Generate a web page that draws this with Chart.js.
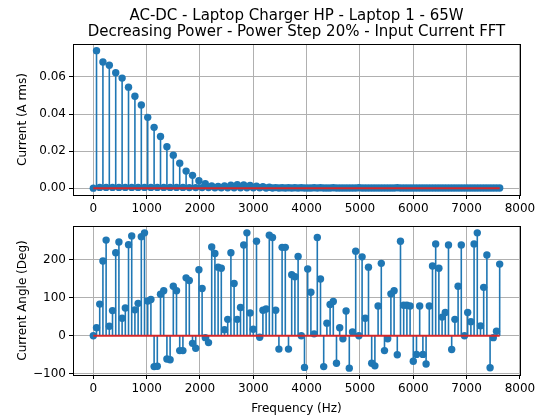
<!DOCTYPE html>
<html>
<head>
<meta charset="utf-8">
<script src="https://cdn.jsdelivr.net/npm/chart.js@4.4.1/dist/chart.umd.min.js"></script>
<style>
  body { margin: 0; background: #fff; }
  #wrap { position: relative; width: 539px; height: 417px; }
  #wrap canvas { position: absolute; left: 0; }
</style>
</head>
<body>
<div id="wrap">
  <canvas id="fftChart" width="539" height="215" style="top:0px"></canvas>
  <canvas id="angleChart" width="539" height="202" style="top:215px"></canvas>
</div>
<script>
// FFT bins (Hz)
const frequencies = [
  0, 60, 120, 180, 240, 300, 360, 420, 480, 540,
  600, 660, 720, 780, 840, 900, 960, 1020, 1080, 1140,
  1200, 1260, 1320, 1380, 1440, 1500, 1560, 1620, 1680, 1740,
  1800, 1860, 1920, 1980, 2040, 2100, 2160, 2220, 2280, 2340,
  2400, 2460, 2520, 2580, 2640, 2700, 2760, 2820, 2880, 2940,
  3000, 3060, 3120, 3180, 3240, 3300, 3360, 3420, 3480, 3540,
  3600, 3660, 3720, 3780, 3840, 3900, 3960, 4020, 4080, 4140,
  4200, 4260, 4320, 4380, 4440, 4500, 4560, 4620, 4680, 4740,
  4800, 4860, 4920, 4980, 5040, 5100, 5160, 5220, 5280, 5340,
  5400, 5460, 5520, 5580, 5640, 5700, 5760, 5820, 5880, 5940,
  6000, 6060, 6120, 6180, 6240, 6300, 6360, 6420, 6480, 6540,
  6600, 6660, 6720, 6780, 6840, 6900, 6960, 7020, 7080, 7140,
  7200, 7260, 7320, 7380, 7440, 7500, 7560, 7620
];

// input current magnitude (A rms)
const currentRms = [
  0, 0.0742, 0.0004, 0.0681, 0.0004, 0.0663, 0.0004, 0.0623, 0.0004, 0.0594,
  0.0004, 0.0545, 0.0004, 0.0496, 0.0004, 0.0449, 0.0004, 0.0382, 0.0004, 0.0328,
  0.0004, 0.0279, 0.0004, 0.0224, 0.0004, 0.0178, 0.0004, 0.0134, 0.0004, 0.0092,
  0.0003, 0.0069, 0.0003, 0.0040, 0.0003, 0.0024, 0.0003, 0.0012, 0.0002, 0.0009,
  0.0002, 0.0012, 0.0002, 0.0016, 0.0002, 0.0018, 0.0002, 0.0017, 0.0002, 0.0014,
  0.0002, 0.0011, 0.0002, 0.0008, 0.0001, 0.0005, 0.0001, 0.0003, 0.0001, 0.0002,
  0.0001, 0.0002, 0.0001, 0.0002, 0.0001, 0.0002, 0.0001, 0.0001, 0.0001, 0.0002,
  0.0001, 0.0002, 0.0001, 0.0001, 0.0001, 0.0002, 0.0001, 0.0001, 0.0001, 0.0001,
  0.0001, 0.0001, 0.0001, 0.0002, 0.0001, 0.0001, 0.0001, 0.0001, 0.0001, 0.0001,
  0.0001, 0.0001, 0.0001, 0.0001, 0.0001, 0.0002, 0.0001, 0.0001, 0.0001, 0.0001,
  0.0001, 0.0001, 0.0001, 0.0001, 0.0001, 0.0001, 0.0001, 0.0001, 0.0001, 0.0001,
  0.0001, 0.0001, 0.0001, 0.0001, 0.0001, 0.0001, 0.0001, 0.0001, 0.0001, 0.0001,
  0.0001, 0.0001, 0.0001, 0.0001, 0.0001, 0.0001, 0.0001, 0.0001
];

// input current phase (deg)
const currentAngle = [
  0, 21, 83, 196, 251, 25, 66, 218, 246, 46,
  73, 239, 262, 68, 85, 260, 270, 91, 95, -81,
  -80, 109, 118, -61, -63, 130, 118, -39, -39, 152,
  145, -20, -33, 173, 124, -5, -18, 233, 216, 180,
  177, 16, 43, 218, 137, 43, 74, 238, 270, 60,
  17, 248, -4, 67, 70, 264, 258, 67, -35, 232,
  232, -35, 160, 155, 208, 0, -83, 175, 114, 5,
  258, 149, -81, 33, 82, 90, -72, 21, -8, 65,
  -85, 10, 222, 0, 207, 46, 180, -72, -79, 78,
  190, -39, -8, 110, 118, -50, 248, 80, 80, 78,
  -67, -49, 78, -49, -74, 78, 183, 241, 177, 49,
  61, 238, -36, 43, 130, 238, 0, 61, 37, 241,
  270, 26, 127, 212, -84, -5, 12, 188
];

const freqTicks = [0, 1000, 2000, 3000, 4000, 5000, 6000, 7000, 8000];
const currentTicks = [0, 0.02, 0.04, 0.06];
const angleTicks = [-100, 0, 100, 200];

const BLUE = '#1f77b4';
const RED = '#d62728';
const FONT = 'DejaVu Sans';

// black box around the plot area, like matplotlib spines
const frame = {
  id: 'frame',
  afterDraw(chart) {
    const a = chart.chartArea;
    const c = chart.ctx;
    c.save();
    c.strokeStyle = '#000';
    c.lineWidth = 1;
    c.strokeRect(Math.round(a.left) + 0.5, Math.round(a.top) + 0.5,
                 Math.round(a.right - a.left), Math.round(a.bottom - a.top));
    c.restore();
  }
};

function stemData(values) {
  const pts = [];
  values.forEach((v, i) => {
    pts.push({x: frequencies[i], y: 0});
    pts.push({x: frequencies[i], y: v});
    pts.push({x: frequencies[i], y: null});
  });
  return pts;
}

function stemDatasets(values) {
  return [
    {
      type: 'line',
      data: [{x: frequencies[0], y: 0}, {x: frequencies[frequencies.length - 1], y: 0}],
      borderColor: RED, borderWidth: 2, pointRadius: 0, order: 0
    },
    {
      type: 'scatter',
      data: values.map((v, i) => ({x: frequencies[i], y: v})),
      backgroundColor: BLUE, borderColor: BLUE, borderWidth: 0,
      pointRadius: 3.7, order: 1
    },
    {
      type: 'line',
      data: stemData(values),
      borderColor: BLUE, borderWidth: 1.6, pointRadius: 0,
      spanGaps: false, order: 2
    }
  ];
}

function xAxis(height, withTitle) {
  return {
    type: 'linear', min: -381, max: 8001,
    afterBuildTicks: s => { s.ticks = freqTicks.map(v => ({value: v})); },
    afterFit: s => { s.height = height; },
    ticks: {
      color: '#000', font: {family: FONT, size: 12}, padding: 3,
      maxRotation: 0, autoSkip: false, callback: v => String(v)
    },
    grid: {color: '#b0b0b0', lineWidth: 1, tickLength: 4, tickColor: '#000'},
    border: {display: false},
    title: {
      display: withTitle, text: 'Frequency (Hz)', color: '#000',
      font: {family: FONT, size: 12}, padding: {top: 0, bottom: 1}
    }
  };
}

function yAxis(min, max, ticks, fmt, label) {
  return {
    type: 'linear', min: min, max: max,
    afterBuildTicks: s => { s.ticks = ticks.map(v => ({value: v})); },
    afterFit: s => { s.width = 73; },
    ticks: {color: '#000', font: {family: FONT, size: 12}, padding: 3, callback: fmt},
    grid: {color: '#b0b0b0', lineWidth: 1, tickLength: 4, tickColor: '#000'},
    border: {display: false},
    title: {
      display: true, text: label, color: '#000',
      font: {family: FONT, size: 12}, padding: {top: 16, bottom: 0}
    }
  };
}

const common = {
  responsive: false,
  animation: false,
  devicePixelRatio: 1,
  plugins: {legend: {display: false}, tooltip: {enabled: false}}
};

new Chart(document.getElementById('fftChart'), {
  type: 'scatter',
  data: {datasets: stemDatasets(currentRms)},
  options: {
    ...common,
    layout: {padding: {left: 0, right: 19, top: 0, bottom: 0}},
    plugins: {
      ...common.plugins,
      title: {
        display: true, fullSize: false, color: '#000',
        text: ['AC-DC - Laptop Charger HP - Laptop 1 - 65W',
               'Decreasing Power - Power Step 20% - Input Current FFT'],
        font: {family: FONT, size: 15, weight: 'normal', lineHeight: 1.05},
        padding: {top: 8, bottom: 4.5}
      }
    },
    scales: {
      x: xAxis(20, false),
      y: yAxis(-0.0037, 0.0778, currentTicks, v => v.toFixed(2), 'Current (A rms)')
    }
  },
  plugins: [frame]
});

new Chart(document.getElementById('angleChart'), {
  type: 'scatter',
  data: {datasets: stemDatasets(currentAngle)},
  options: {
    ...common,
    layout: {padding: {left: 0, right: 19, top: 11, bottom: 0}},
    scales: {
      x: xAxis(42, true),
      y: yAxis(-103, 288, angleTicks,
               v => (v < 0 ? '\u2212' + Math.abs(v) : String(v)), 'Current Angle (Deg)')
    }
  },
  plugins: [frame]
});
</script>
</body>
</html>
